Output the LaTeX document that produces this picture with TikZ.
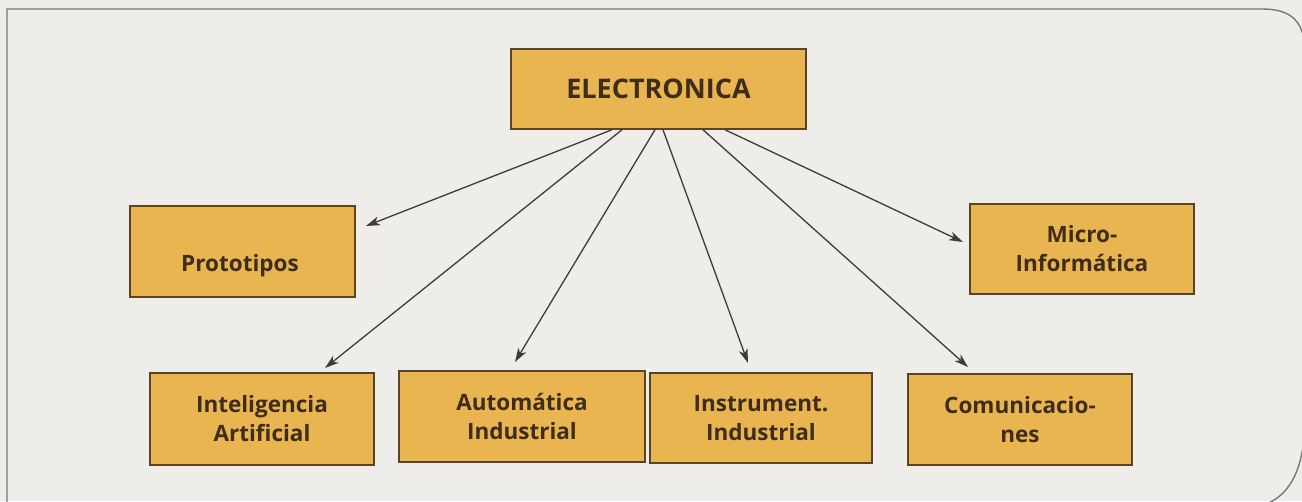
\documentclass[tikz,border=0pt]{standalone}
\usepackage{fontspec}
\setmainfont{Open Sans}
\usetikzlibrary{arrows.meta}
\definecolor{paper}{HTML}{EFEDE9}
\definecolor{boxfill}{HTML}{E8B551}
\definecolor{boxline}{HTML}{5A4428}
\definecolor{ink}{HTML}{3F2C1B}
\definecolor{arrowc}{HTML}{3F3B3B}
\definecolor{framec}{HTML}{7A7876}
\tikzset{
  box/.style={draw=boxline, line width=1.5pt, fill=boxfill, text=ink, font=\bfseries\fontsize{22.5}{29}\selectfont, align=center, inner sep=0pt},
  arr/.style={draw=arrowc, line width=1.3pt, -{Stealth[length=14pt,width=9pt,inset=4pt]}},
}
\begin{document}
\begin{tikzpicture}[x=1pt,y=-1pt]
\useasboundingbox (0,0) rectangle (1302,501);
\clip (0,0) rectangle (1302,501);
\fill[paper] (0,0) rectangle (1302,501);
\draw[framec, line width=1.4pt] (7,520) -- (7,9) -- (1262,9) .. controls (1290,9) and (1302,20) .. (1305,45) -- (1305,430) .. controls (1302,470) and (1290,498) .. (1260,506);
\node[box, minimum width=295pt, minimum height=80pt, font=\bfseries\fontsize{27}{30}\selectfont] (E) at (658.5,89) {ELECTRONICA};
\node[box, minimum width=225pt, minimum height=91pt] (P) at (242.5,251.5) {};
\node[text=ink, font=\bfseries\fontsize{22.5}{29}\selectfont] (Pt) at (240,266) {Prototipos};
\node[box, minimum width=224pt, minimum height=90pt] (M) at (1082,249) {Micro-\\Informática};
\node[box, minimum width=224pt, minimum height=92pt] (IA) at (262,419) {Inteligencia\\Artificial};
\node[box, minimum width=246pt, minimum height=91pt] (AI) at (522,416.5) {Automática\\Industrial};
\node[box, minimum width=222pt, minimum height=90pt] (II) at (761,418) {Instrument.\\Industrial};
\node[box, minimum width=224pt, minimum height=91pt] (C) at (1020,419.5) {Comunicacio-\\nes};
\coordinate (tP) at (366,226);
\coordinate (tIA) at (325,368);
\coordinate (tAI) at (515,362);
\coordinate (tII) at (748,363);
\coordinate (tC) at (968,367);
\coordinate (tM) at (963,242);
\draw[arr] ([xshift=-46.5pt]E.south) -- (tP);
\draw[arr] ([xshift=-36.5pt]E.south) -- (tIA);
\draw[arr] ([xshift=-3.5pt]E.south) -- (tAI);
\draw[arr] ([xshift=4.5pt]E.south) -- (tII);
\draw[arr] ([xshift=44.5pt]E.south) -- (tC);
\draw[arr] ([xshift=66.5pt]E.south) -- (tM);
\end{tikzpicture}
\end{document}
